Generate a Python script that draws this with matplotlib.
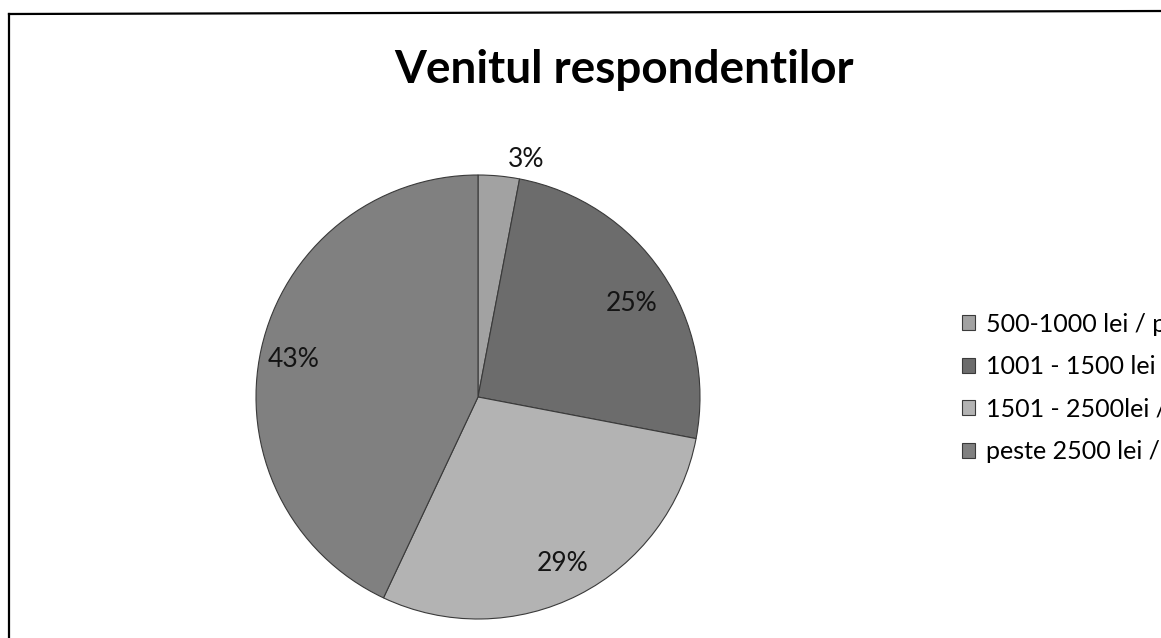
import numpy as np
import matplotlib
matplotlib.use("Agg")
import matplotlib.pyplot as plt
from matplotlib.lines import Line2D

plt.rcParams['font.family'] = ['Lato', 'DejaVu Sans']

# date
categorii = ["500-1000 lei / persoana", "1001 - 1500 lei / persoana",
             "1501 - 2500lei / persoana", "peste 2500 lei / persoana"]
procente = [3, 25, 29, 43]
culori = ["#a2a2a2", "#6c6c6c", "#b3b3b3", "#808080"]
# pozitia etichetelor: distanta fata de centru (1 = marginea) si deplasare unghiulara
dist_etichete = [1.09, 0.81, 0.84, 0.85]
deplasare_unghi = [-6, -3, 0, 1]

W, H = 1161, 638
fig = plt.figure(figsize=(W / 100, H / 100), dpi=100)

# chenarul graficului
fig.add_artist(Line2D([9 / W, 9 / W], [0, 1 - 14 / H], color="black", lw=1.6))
fig.add_artist(Line2D([9 / W, 1], [1 - 14 / H, 1 - 11 / H], color="black", lw=1.6))

cx, cy, r = 478, 397, 222
ax = fig.add_axes([(cx - r) / W, (H - cy - r) / H, 2 * r / W, 2 * r / H])
wedges, _ = ax.pie(procente, colors=culori, startangle=90, counterclock=False,
                   radius=1, wedgeprops=dict(edgecolor="#3a3a3a", linewidth=0.8))
ax.set_xlim(-1, 1)
ax.set_ylim(-1, 1)
ax.set_aspect("auto")
ax.axis("off")

for w, p, d, dt in zip(wedges, procente, dist_etichete, deplasare_unghi):
    mid = np.deg2rad((w.theta1 + w.theta2) / 2 + dt)
    ax.text(d * np.cos(mid), d * np.sin(mid), f"{p}%", ha="center", va="center",
            fontsize=19, color="#141414", clip_on=False)

fig.text(624 / W, 1 - 70 / H, "Venitul respondentilor", ha="center", va="center",
         fontsize=33, fontweight="bold", color="black")

fig.legend(wedges, categorii, loc="center left", bbox_to_anchor=(949 / W, 1 - 388 / H),
           frameon=False, fontsize=18, handlelength=0.55, handleheight=0.55,
           handletextpad=0.45, labelspacing=0.78, borderpad=0)

fig.savefig("out.png", dpi=100)
